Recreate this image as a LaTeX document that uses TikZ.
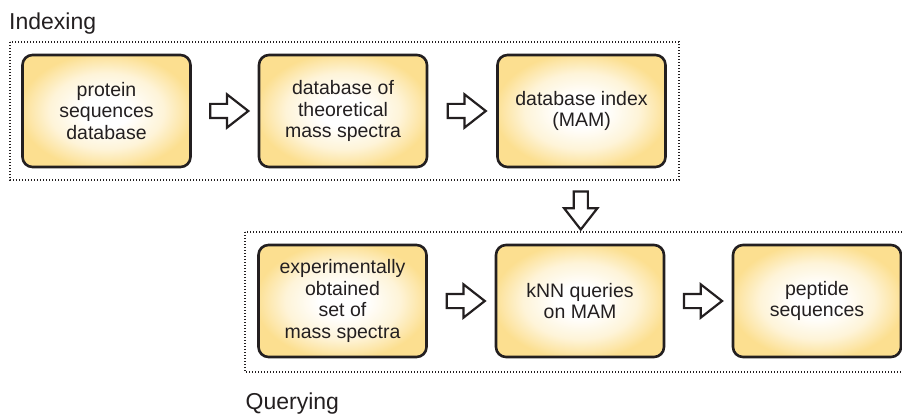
\documentclass[tikz,border=0pt]{standalone}
\usepackage{fontspec}
\setmainfont{Liberation Sans}
\usetikzlibrary{shapes.arrows,calc}

\definecolor{ink}{RGB}{35,31,32}
\definecolor{boxfill}{RGB}{252,223,144}
\colorlet{boxmid}{boxfill!35!white}

% soft glow: white core fading to warm yellow at the rim
\pgfdeclareradialshading{stageglow}{\pgfpoint{0bp}{0bp}}{%
  color(0bp)=(white); color(7bp)=(white); color(17bp)=(boxmid);
  color(26bp)=(boxfill); color(50bp)=(boxfill)}

\tikzset{
  stage/.style={draw=ink, line width=2.6pt, rounded corners=10pt,
    shading=stageglow,
    minimum width=168pt, minimum height=112pt, align=center,
    text=ink, font=\fontsize{19.5}{21.6}\selectfont},
  flow/.style={single arrow, draw=ink, line width=2.2pt, fill=white,
    inner sep=0pt, text height=6pt, text depth=6pt,
    minimum height=38pt, single arrow head extend=9.5pt,
    single arrow tip angle=76},
  frame/.style={draw=ink, line width=1.5pt, dash pattern=on 1.4pt off 1.6pt},
  phase/.style={anchor=base west, inner sep=0pt, text=ink,
    font=\fontsize{23}{26}\selectfont}
}

\begin{document}
\begin{tikzpicture}[x=1pt, y=-1pt]
  \useasboundingbox (0,0) rectangle (902,414);
  \clip (0,0) rectangle (902,414);

  % indexing stages
  \node[stage] (prot) at (106.5,111) {protein\\sequences\\database};
  \node[stage] (theo) at (343,111) {database of\\theoretical\\mass spectra};
  \node[stage] (idx)  at (581.5,111) {database index\\(MAM)};

  % querying stages
  \node[stage] (exp)  at (342.5,301) {experimentally\\obtained\\set of\\mass spectra};
  \node[stage] (knn)  at (580,301) {kNN queries\\on MAM};
  \node[stage] (pep)  at (817,301) {peptide\\sequences};

  % dotted group frames
  \draw[frame] (10,42) rectangle (679,180);
  \draw[frame] (245,232) rectangle (915,372);

  \node[phase] (lblidx) at (9,29.5) {Indexing};
  \node[phase] (lblqry) at (245.5,409) {Querying};

  % block arrows between stages
  \node[flow] (a1) at ($(prot.east)!0.5!(theo.west)$) {};
  \node[flow] (a2) at ($(theo.east)!0.5!(idx.west)$) {};
  \node[flow] (a3) at ($(exp.east)!0.5!(knn.west)$) {};
  \node[flow] (a4) at ($(knn.east)!0.5!(pep.west)$) {};
  \node[flow, rotate=-90] (a5) at ($(idx.south)!0.5!(knn.north)$) {};
\end{tikzpicture}
\end{document}
